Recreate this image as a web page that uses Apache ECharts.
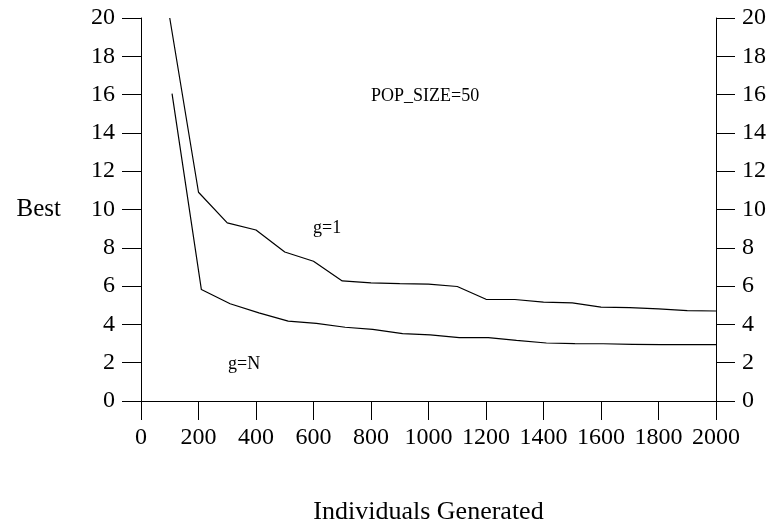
<!DOCTYPE html>
<html>
<head>
<meta charset="utf-8">
<script src="https://cdn.jsdelivr.net/npm/echarts@6/dist/echarts.min.js"></script>
<style>
    html, body { margin: 0; padding: 0; background: #fff; }
    #chart { width: 772px; height: 523px; }
</style>
</head>
<body>
<div id="chart"></div>
<script>
//数据
var xTicks = [0, 200, 400, 600, 800, 1000, 1200, 1400, 1600, 1800, 2000];
var gen1 = [100, 200, 300, 400, 500, 600, 700, 800, 900, 1000, 1100, 1200, 1300, 1400, 1500, 1600, 1700, 1800, 1900, 2000];
var best1 = [20, 10.9, 9.3, 8.93, 7.78, 7.3, 6.27, 6.17, 6.13, 6.1, 5.98, 5.31, 5.3, 5.16, 5.12, 4.9, 4.88, 4.81, 4.72, 4.7];
var genN = [108, 210, 310, 410, 512, 610, 710, 806, 910, 1006, 1107, 1208, 1306, 1410, 1509, 1607, 1710, 1809, 1905, 2000];
var bestN = [16.05, 5.82, 5.08, 4.6, 4.17, 4.05, 3.85, 3.74, 3.52, 3.45, 3.31, 3.31, 3.17, 3.03, 3.0, 2.99, 2.96, 2.94, 2.94, 2.94];

//初始化图表实例
var chart = echarts.init(document.getElementById("chart"), null, { renderer: "canvas" });

var font = "Liberation Serif";

function pairs(xs, ys) {
    var out = [];
    for (var i = 0; i < xs.length; i++) {
        out.push([xs[i], ys[i]]);
    }
    return out;
}

var yAxisBase = function(pos) {
    return {
        type: "value",
        position: pos,
        min: 0,
        max: 20,
        interval: 2,
        axisLine: { show: true, lineStyle: { color: "#000", width: 1 } },
        axisTick: { show: true, inside: false, length: 19, lineStyle: { color: "#000", width: 1 } },
        axisLabel: { color: "#000", fontFamily: font, fontSize: 24, margin: 26 },
        splitLine: { show: false }
    };
};

var leftY = yAxisBase("left");
leftY.name = "Best";
leftY.nameLocation = "middle";
leftY.nameRotate = 0;
leftY.nameGap = 80;
leftY.nameTextStyle = { color: "#000", fontFamily: font, fontSize: 25 };

var rightY = yAxisBase("right");

//图表配置项
var option = {
    backgroundColor: "#fff",
    animation: false,
    grid: {
        left: 141,
        right: 56,
        top: 18,
        bottom: 122,
        containLabel: false,
        outerBoundsMode: "none"
    },
    xAxis: {
        type: "value",
        min: 0,
        max: 2000,
        interval: 200,
        name: "Individuals Generated",
        nameLocation: "middle",
        nameGap: 98,
        nameTextStyle: { color: "#000", fontFamily: font, fontSize: 26 },
        axisLine: { show: true, onZero: false, lineStyle: { color: "#000", width: 1 } },
        axisTick: { show: true, inside: false, length: 19, lineStyle: { color: "#000", width: 1 } },
        axisLabel: {
            color: "#000", fontFamily: font, fontSize: 24, margin: 25,
            formatter: function(v) { return xTicks.indexOf(v) >= 0 ? String(v) : ""; }
        },
        splitLine: { show: false }
    },
    yAxis: [leftY, rightY],
    graphic: [
        { type: "text", left: 371, top: 87, style: { text: "POP_SIZE=50", font: "18px 'Liberation Serif'", fill: "#000" } },
        { type: "text", left: 313, top: 219, style: { text: "g=1", font: "18px 'Liberation Serif'", fill: "#000" } },
        { type: "text", left: 228, top: 355, style: { text: "g=N", font: "18px 'Liberation Serif'", fill: "#000" } }
    ],
    series: [
        {
            name: "g=1",
            type: "line",
            data: pairs(gen1, best1),
            showSymbol: false,
            lineStyle: { color: "#000", width: 1.2 }
        },
        {
            name: "g=N",
            type: "line",
            data: pairs(genN, bestN),
            showSymbol: false,
            lineStyle: { color: "#000", width: 1.2 }
        }
    ]
};

//使用以上配置项配置图表
chart.setOption(option);
</script>
</body>
</html>
